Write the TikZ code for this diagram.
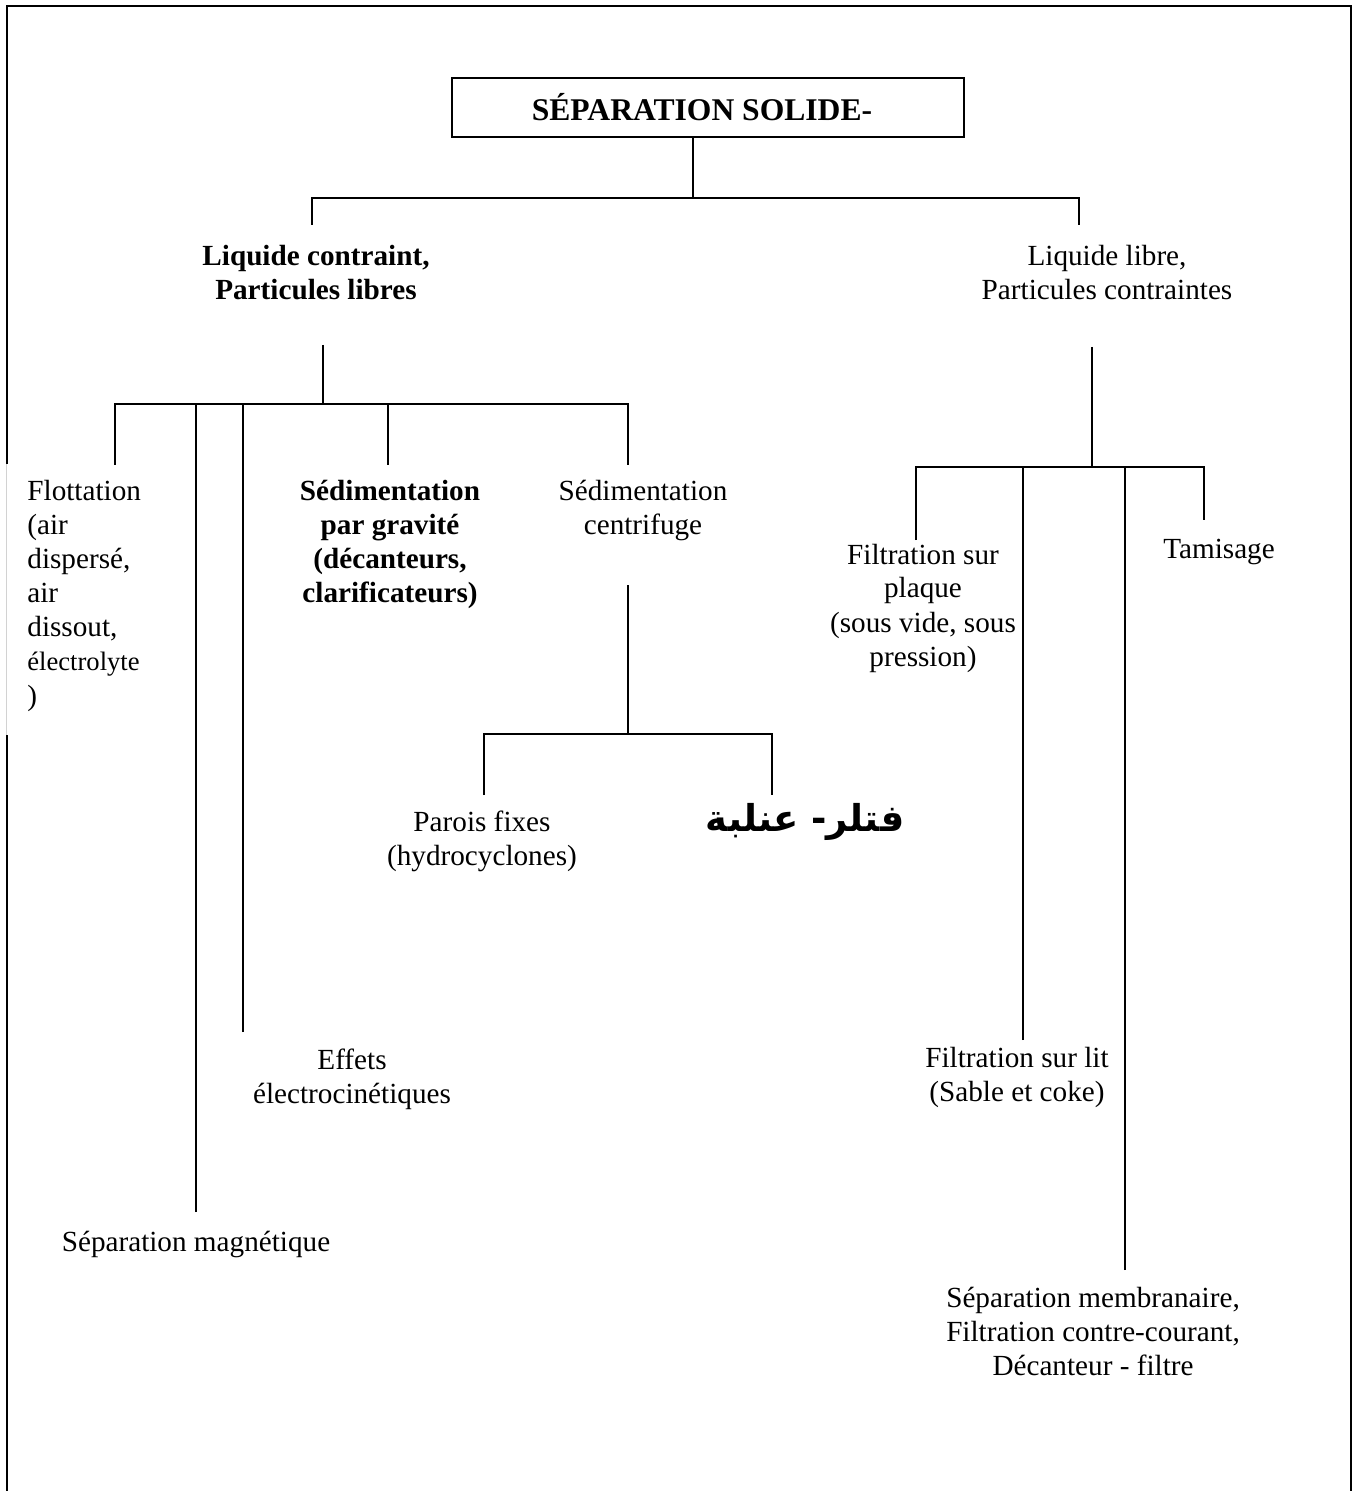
\documentclass[tikz,border=0pt]{standalone}
\usepackage{fontspec}
\setmainfont{Liberation Serif}
\newfontfamily\arabicfont[Script=Arabic]{DejaVu Sans}
\TeXXeTstate=1
% centred (or left-aligned) stack of lines whose baseline is the first line
\newcommand\txtstack[2][c]{\begin{tabular}[t]{@{}#1@{}}#2\end{tabular}}

\tikzset{
  conn/.style={line width=0.8pt},
  frame/.style={line width=1.2pt},
  lbl/.style={anchor=base, inner sep=0pt, font=\fontsize{14.6}{17}\selectfont},
  bl/.style={lbl, font=\fontsize{14.6}{17}\selectfont\bfseries},
  titlebox/.style={draw, line width=0.8pt, minimum width=256pt, minimum height=29.5pt,
    inner sep=0pt, font=\fontsize{15.8}{18}\selectfont\bfseries},
  arlbl/.style={inner sep=0pt, font=\fontsize{18.5}{22}\selectfont\arabicfont\bfseries}
}

\begin{document}
\begin{tikzpicture}[x=0.5pt,y=-0.5pt]
  \useasboundingbox (0,0) rectangle (1355,1491);

  % open outer frame
  \draw[frame] (7,1491) -- (7,6) -- (1351,6) -- (1351,1491);
  % text box of the flotation entry, hiding part of the frame
  \fill[white] (5,464) rectangle (150,735);
  \draw[gray!35, line width=0.5pt] (6,464) -- (6,735);

  % ---- nodes ----
  \node[titlebox] (top) at (708,107.5) {\hspace*{-6pt}SÉPARATION SOLIDE-};

  \node[bl]  (lc) at (316,266) {\txtstack{Liquide contraint,\\Particules libres}};
  \node[lbl] (ll) at (1107,266) {\txtstack{Liquide libre,\\Particules contraintes}};

  \node[lbl, anchor=base west] (flot) at (27,501)
    {\txtstack[l]{Flottation\\(air\\dispersé,\\air\\dissout,\\{\fontsize{13.3}{17}\selectfont électrolyte}\\)}};
  \node[bl]  (grav) at (390,501) {\txtstack{Sédimentation\\par gravité\\(décanteurs,\\clarificateurs)}};
  \node[lbl] (cent) at (643,501) {\txtstack{Sédimentation\\centrifuge}};
  \node[lbl] (paro) at (482,831) {\txtstack{Parois fixes\\(hydrocyclones)}};
  \node[arlbl] (mobi) at (805,822) {\beginR فتلر- عنلبة\endR};
  \node[lbl] (effe) at (352,1069) {\txtstack{Effets\\électrocinétiques}};
  \node[lbl] (magn) at (196,1251) {Séparation magnétique};

  \node[lbl] (plaq) at (923,564) {\txtstack{Filtration sur\\plaque\\(sous vide, sous\\pression)}};
  \node[lbl] (tami) at (1219,558) {Tamisage};
  \node[lbl] (lit)  at (1017,1067) {\txtstack{Filtration sur lit\\(Sable et coke)}};
  \node[lbl] (memb) at (1093,1307) {\txtstack{Séparation membranaire,\\Filtration contre-courant,\\Décanteur - filtre}};

  % ---- junction and end points of the connectors ----
  \coordinate (jA) at (693,198);
  \coordinate (eLC) at (312,225);
  \coordinate (eLL) at (1079,225);

  \coordinate (sB) at (323,345);
  \coordinate (jB) at (323,404);
  \coordinate (eFlot) at (115,465);
  \coordinate (eMagn) at (196,1212);
  \coordinate (eEffe) at (243,1032);
  \coordinate (eGrav) at (388,465);
  \coordinate (eCent) at (628,465);

  \coordinate (sC) at (628,585);
  \coordinate (jC) at (628,734);
  \coordinate (eParo) at (484,795);
  \coordinate (eMobi) at (772,795);

  \coordinate (sD) at (1092,347);
  \coordinate (jD) at (1092,467);
  \coordinate (ePlaq) at (916,540);
  \coordinate (eLit)  at (1023,1040);
  \coordinate (eMemb) at (1125,1270);
  \coordinate (eTami) at (1204,520);

  % ---- connectors ----
  % root
  \draw[conn] (jA |- top.south) -- (jA);
  \draw[conn] (eLC) -- (eLC |- jA) -- (eLL |- jA) -- (eLL);

  % constrained liquid, free particles
  \draw[conn] (sB) -- (jB);
  \draw[conn] (eFlot) -- (eFlot |- jB) -- (eCent |- jB) -- (eCent);
  \draw[conn] (eMagn) -- (eMagn |- jB);
  \draw[conn] (eEffe) -- (eEffe |- jB);
  \draw[conn] (eGrav) -- (eGrav |- jB);

  % centrifugal sedimentation
  \draw[conn] (sC) -- (jC);
  \draw[conn] (eParo) -- (eParo |- jC) -- (eMobi |- jC) -- (eMobi);

  % free liquid, constrained particles
  \draw[conn] (sD) -- (jD);
  \draw[conn] (ePlaq) -- (ePlaq |- jD) -- (eTami |- jD) -- (eTami);
  \draw[conn] (eLit) -- (eLit |- jD);
  \draw[conn] (eMemb) -- (eMemb |- jD);
\end{tikzpicture}
\end{document}
